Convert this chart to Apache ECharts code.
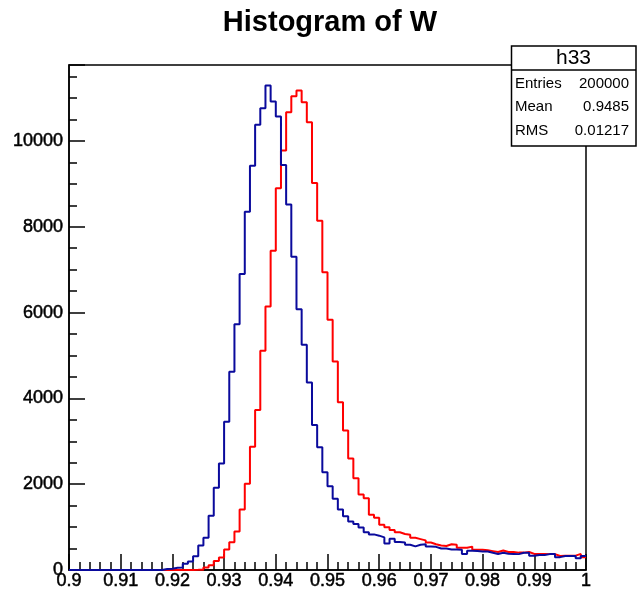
<!DOCTYPE html>
<html><head><meta charset="utf-8">
<script src="https://cdn.jsdelivr.net/npm/echarts@6/dist/echarts.min.js"></script>
<style>html,body{margin:0;padding:0;background:#fff}#c{width:637px;height:597px}</style>
</head><body><div id="c"></div>
<script>
// ---- data ----
const chartTitle = 'Histogram of W';
const binStart = 0.9;
const binWidth = 0.001;
// h33 (red), 100 bins from 0.9 to 1.0
const redCounts = [
  0,0,0,0,0,0,0,0,0,0,
  0,0,0,0,0,0,0,0,0,0,
  0,0,0,0,3,8,60,110,210,290,
  480,645,900,1410,2010,2870,3730,5110,6140,7440,
  8900,9775,10670,11040,11175,10900,10435,9020,8140,6940,
  5830,4860,3910,3250,2600,2137,1760,1675,1290,1220,
  1055,995,935,880,840,820,750,720,690,640,
  600,570,560,600,590,520,520,545,470,470,
  460,440,420,455,420,420,405,405,420,375,
  375,375,370,370,325,335,335,335,375,300
];
// second histogram (blue), same binning
const blueCounts = [
  0,0,0,0,0,0,0,0,0,0,
  0,0,0,0,0,0,0,0,25,30,
  50,60,145,200,320,570,750,1265,1915,2480,
  3455,4620,5730,6900,8350,9420,10380,10760,11290,10920,
  10570,9440,8520,7300,6080,5250,4370,3380,2860,2280,
  1950,1660,1410,1255,1130,1070,990,880,830,800,
  760,620,730,650,640,590,550,590,600,545,
  540,500,500,480,480,470,370,450,440,430,
  430,400,375,400,380,375,370,400,400,330,
  350,350,370,370,300,325,325,325,275,325
];
const statTitle = 'h33';
const statLabels = ['Entries', 'Mean', 'RMS'];
const statValues = ['200000', '0.9485', '0.01217'];

function toSteps(counts) {
  const pts = counts.map((v, i) => [+(binStart + i * binWidth).toFixed(4), v]);
  pts.push([+(binStart + counts.length * binWidth).toFixed(4), counts[counts.length - 1]]);
  return pts;
}

const FONT = 'Liberation Sans, Arial, Helvetica, sans-serif';
const chart = echarts.init(document.getElementById('c'), null, {renderer: 'canvas'});

const tickStyle = {color: '#000', width: 1.5};
const statGraphics = [
  {type: 'rect', shape: {x: 511.5, y: 46, width: 124.5, height: 100},
   style: {fill: '#fff', stroke: '#000', lineWidth: 1.5}, z: 100},
  {type: 'line', shape: {x1: 511.5, y1: 70, x2: 636, y2: 70},
   style: {stroke: '#000', lineWidth: 1.5}, z: 101},
  {type: 'text', x: 573.5, y: 58.5, z: 101,
   style: {text: statTitle, font: '21px ' + FONT, fill: '#000', textAlign: 'center', textVerticalAlign: 'middle'}}
];
const rowY = [83.5, 107, 130.5];
statLabels.forEach((lab, i) => {
  statGraphics.push({type: 'text', x: 515, y: rowY[i], z: 101,
    style: {text: lab, font: '15px ' + FONT, fill: '#000', textAlign: 'left', textVerticalAlign: 'middle'}});
  statGraphics.push({type: 'text', x: 629, y: rowY[i], z: 101,
    style: {text: statValues[i], font: '15px ' + FONT, fill: '#000', textAlign: 'right', textVerticalAlign: 'middle'}});
});

const labelBase = {fontSize: 18, fontFamily: FONT, color: '#000', textBorderColor: '#000', textBorderWidth: 0.5};

chart.setOption({
  animation: false,
  backgroundColor: '#fff',
  grid: {left: 69, right: 51, top: 65, bottom: 27, show: true, borderColor: '#000', borderWidth: 1.5, containLabel: false},
  xAxis: {
    type: 'value', min: 0.9, max: 1, interval: 0.01,
    axisLine: {show: true, lineStyle: tickStyle},
    axisTick: {show: true, inside: true, length: 16, lineStyle: tickStyle},
    minorTick: {show: true, splitNumber: 5, length: 8, lineStyle: tickStyle},
    splitLine: {show: false},
    axisLabel: Object.assign({}, labelBase, {margin: 2, showMinLabel: true, showMaxLabel: true,
      formatter: v => String(Math.round(v * 100) / 100)})
  },
  yAxis: [{
    type: 'value', min: 0, max: 11770, interval: 2000, position: 'left',
    axisLine: {show: true, lineStyle: tickStyle},
    axisTick: {show: true, inside: true, length: 16, lineStyle: tickStyle},
    splitLine: {show: false},
    axisLabel: Object.assign({}, labelBase, {margin: 6,
      formatter: v => (Math.round(v) % 2000 === 0 ? String(Math.round(v)) : '')})
  }, {
    type: 'value', min: 0, max: 11770, interval: 500, position: 'left', offset: 0,
    axisLine: {show: false},
    axisTick: {show: true, inside: true, length: 8, lineStyle: tickStyle},
    splitLine: {show: false},
    axisLabel: {show: false}
  }],
  series: [{
    type: 'line', step: 'end', data: toSteps(redCounts), showSymbol: false, symbol: 'none',
    lineStyle: {color: '#ff0000', width: 2}, yAxisIndex: 0, z: 3
  }, {
    type: 'line', step: 'end', data: toSteps(blueCounts), showSymbol: false, symbol: 'none',
    lineStyle: {color: '#0a0a9c', width: 2}, yAxisIndex: 0, z: 4
  }],
  graphic: [
    {type: 'text', x: 330, y: 23, z: 100,
     style: {text: chartTitle, font: 'bold 29px ' + FONT, fill: '#000', textAlign: 'center', textVerticalAlign: 'middle'}}
  ].concat(statGraphics)
});
</script>
</body></html>
